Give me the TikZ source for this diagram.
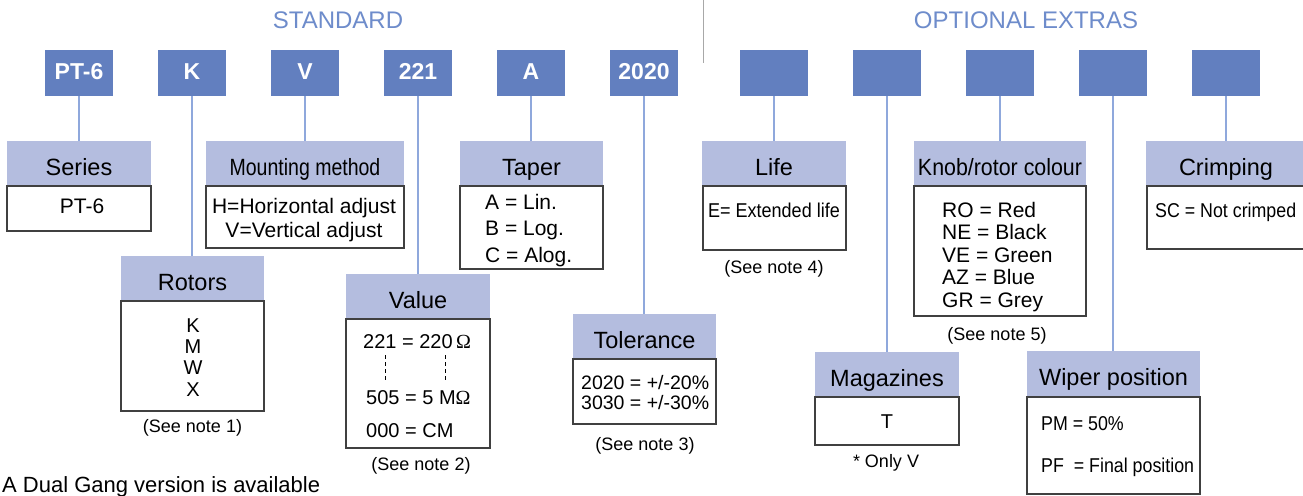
\documentclass[tikz,border=0pt]{standalone}
\usepackage{fontspec}
\usepackage{graphicx}
\setmainfont{Liberation Sans}
\newfontfamily\omegafont{Liberation Serif}
\definecolor{codeblue}{HTML}{627FBF}
\definecolor{hdrblue}{HTML}{B4BDDF}
\definecolor{connblue}{HTML}{8FA8DC}
\definecolor{titleblue}{HTML}{6E8CCB}
\definecolor{sepgray}{HTML}{A8A8A8}
\definecolor{bodyline}{HTML}{404040}
\newcommand{\fsz}[1]{\fontsize{#1}{#1}\selectfont}
\newcommand{\hsq}[2]{\scalebox{#1}[1]{#2}}
\begin{document}
\begin{tikzpicture}[x=1pt,y=-1pt,
  codebox/.style={fill=codeblue, minimum width=68pt, minimum height=46pt, inner sep=0pt,
    text=white, font=\fsz{23}\bfseries, text height=12pt, text depth=0pt},
  hdrbox/.style={fill=hdrblue, minimum height=45pt, inner sep=0pt,
    font=\fsz{23.5}, text height=23pt, text depth=0pt},
  bodybox/.style={draw=bodyline, line width=1.2pt, fill=white, inner sep=0pt},
  conn/.style={draw=connblue, line width=1.5pt},
  title/.style={text=titleblue, font=\fsz{24}, anchor=base, inner sep=0pt},
  bt/.style={anchor=base, inner sep=0pt},
  btw/.style={anchor=base west, inner sep=0pt},
  note/.style={anchor=base, inner sep=0pt, font=\fsz{18}}]
\useasboundingbox (0,0) rectangle (1303,495);
\fill[white] (0,0) rectangle (1303,495);

% titles and separator
\node[title] (tstd) at (338,29) {STANDARD};
\node[title] (topt) at (1026,29) {OPTIONAL EXTRAS};
\draw[sepgray, line width=1pt] (703,0) -- (703,63);

% code boxes
\node[codebox] (cPT) at (79,73) {PT-6};
\node[codebox] (cK) at (192,73) {K};
\node[codebox] (cV) at (305,73) {V};
\node[codebox] (c221) at (418,73) {221};
\node[codebox] (cA) at (531,73) {A};
\node[codebox] (c2020) at (644,73) {2020};
\node[codebox] (o1) at (774,73) {};
\node[codebox] (o2) at (887,73) {};
\node[codebox] (o3) at (1000,73) {};
\node[codebox] (o4) at (1113,73) {};
\node[codebox] (o5) at (1226,73) {};

% headers
\node[hdrbox, minimum width=144pt] (hSeries) at (79,163.5) {Series};
\node[hdrbox, minimum width=198pt] (hMount) at (305,163.5) {\hsq{0.83}{Mounting method}};
\node[hdrbox, minimum width=143pt] (hTaper) at (531.5,163.5) {Taper};
\node[hdrbox, minimum width=144pt] (hLife) at (774,163.5) {Life};
\node[hdrbox, minimum width=172pt] (hKnob) at (1000,163.5) {\hsq{0.91}{Knob/rotor colour}};
\node[hdrbox, minimum width=160pt] (hCrimp) at (1226,163.5) {Crimping};
\node[hdrbox, minimum width=143pt] (hRotors) at (192.5,278.5) {Rotors};
\node[hdrbox, minimum width=144pt] (hValue) at (418,296.5) {Value};
\node[hdrbox, minimum width=143pt] (hTol) at (644.5,336.5) {Tolerance};
\node[hdrbox, minimum width=144pt] (hMag) at (887,374.5) {Magazines};
\node[hdrbox, minimum width=173pt, minimum height=46pt] (hWiper) at (1113.5,374) {Wiper position};

% bodies
\node[bodybox, minimum width=144pt, minimum height=45pt] (bSeries) at (79,208.5) {};
\node[bodybox, minimum width=198pt, minimum height=62pt] (bMount) at (305,217) {};
\node[bodybox, minimum width=143pt, minimum height=83pt] (bTaper) at (531.5,227.5) {};
\node[bodybox, minimum width=143pt, minimum height=64pt] (bLife) at (774.5,218) {};
\node[bodybox, minimum width=172pt, minimum height=130pt] (bKnob) at (1000,251) {};
\node[bodybox, minimum width=159pt, minimum height=63pt] (bCrimp) at (1226.5,217.5) {};
\node[bodybox, minimum width=143pt, minimum height=110pt] (bRotors) at (192.5,356) {};
\node[bodybox, minimum width=144pt, minimum height=129pt] (bValue) at (418,383.5) {};
\node[bodybox, minimum width=143pt, minimum height=65pt] (bTol) at (644.5,391.5) {};
\node[bodybox, minimum width=144pt, minimum height=48pt] (bMag) at (887,421) {};
\node[bodybox, minimum width=173pt, minimum height=97pt] (bWiper) at (1113.5,445.5) {};

% connectors
\draw[conn] (cPT.south) -- (cPT.south |- hSeries.north);
\draw[conn] (cK.south) -- (cK.south |- hRotors.north);
\draw[conn] (cV.south) -- (cV.south |- hMount.north);
\draw[conn] (c221.south) -- (c221.south |- hValue.north);
\draw[conn] (cA.south) -- (cA.south |- hTaper.north);
\draw[conn] (c2020.south) -- (c2020.south |- hTol.north);
\draw[conn] (o1.south) -- (o1.south |- hLife.north);
\draw[conn] (o2.south) -- (o2.south |- hMag.north);
\draw[conn] (o3.south) -- (o3.south |- hKnob.north);
\draw[conn] (o4.south) -- (o4.south |- hWiper.north);
\draw[conn] (o5.south) -- (o5.south |- hCrimp.north);

% body texts
\node[bt, font=\fsz{21}] (tSeries) at (82,213) {PT-6};
\node[bt, font=\fsz{21}] (tMount1) at (304,213) {H=Horizontal adjust};
\node[bt, font=\fsz{21}] (tMount2) at (304,237) {V=Vertical adjust};
\node[btw, font=\fsz{21}] (tTaper1) at (485,209) {A = Lin.};
\node[btw, font=\fsz{21}] (tTaper2) at (485,235.5) {B = Log.};
\node[btw, font=\fsz{21}] (tTaper3) at (485,262) {C = Alog.};
\node[btw, font=\fsz{20}] (tLife) at (708,217) {\hsq{0.9}{E= Extended life}};
\node[btw, font=\fsz{21}] (tKnob1) at (942,217) {RO = Red};
\node[btw, font=\fsz{21}] (tKnob2) at (942,239.5) {NE = Black};
\node[btw, font=\fsz{21}] (tKnob3) at (942,262) {VE = Green};
\node[btw, font=\fsz{21}] (tKnob4) at (942,284.5) {AZ = Blue};
\node[btw, font=\fsz{21}] (tKnob5) at (942,307) {GR = Grey};
\node[btw, font=\fsz{20}] (tCrimp) at (1155,217) {\hsq{0.89}{SC = Not crimped}};
\node[bt, font=\fsz{20}] (tRot1) at (193,332) {K};
\node[bt, font=\fsz{20}] (tRot2) at (193,353) {M};
\node[bt, font=\fsz{20}] (tRot3) at (193,374) {W};
\node[bt, font=\fsz{20}] (tRot4) at (193,396) {X};
\node[btw, font=\fsz{20}] (tVal1) at (363,348) {221 = 220\,{\omegafont Ω}};
\node[btw, font=\fsz{20}] (tVal2) at (366,404) {505 = 5 M{\omegafont Ω}};
\node[btw, font=\fsz{20}] (tVal3) at (366,437) {000 = CM};
\draw[black, line width=0.9pt, dash pattern=on 4pt off 3pt] (385,355) -- (385,380);
\draw[black, line width=0.9pt, dash pattern=on 4pt off 3pt] (445,355) -- (445,380);
\node[btw, font=\fsz{19.5}] (tTol1) at (581,389) {2020 = +/-20\%};
\node[btw, font=\fsz{19.5}] (tTol2) at (581,409) {3030 = +/-30\%};
\node[bt, font=\fsz{20}] (tMag) at (887,428) {T};
\node[btw, font=\fsz{20}] (tWip1) at (1041,430) {\hsq{0.89}{PM = 50\%}};
\node[btw, font=\fsz{20}] (tWip2) at (1041,472) {\hsq{0.89}{PF\ \ = Final position}};

% notes
\node[note] (n1) at (192.5,432) {(See note 1)};
\node[note] (n2) at (421,470) {(See note 2)};
\node[note] (n3) at (645,450) {(See note 3)};
\node[note] (n4) at (774,273) {(See note 4)};
\node[note] (n5) at (997,340) {(See note 5)};
\node[note] (n6) at (886,467) {* Only V};
\node[btw, font=\fsz{22}] (dual) at (2,492) {A Dual Gang version is available};
\end{tikzpicture}
\end{document}
